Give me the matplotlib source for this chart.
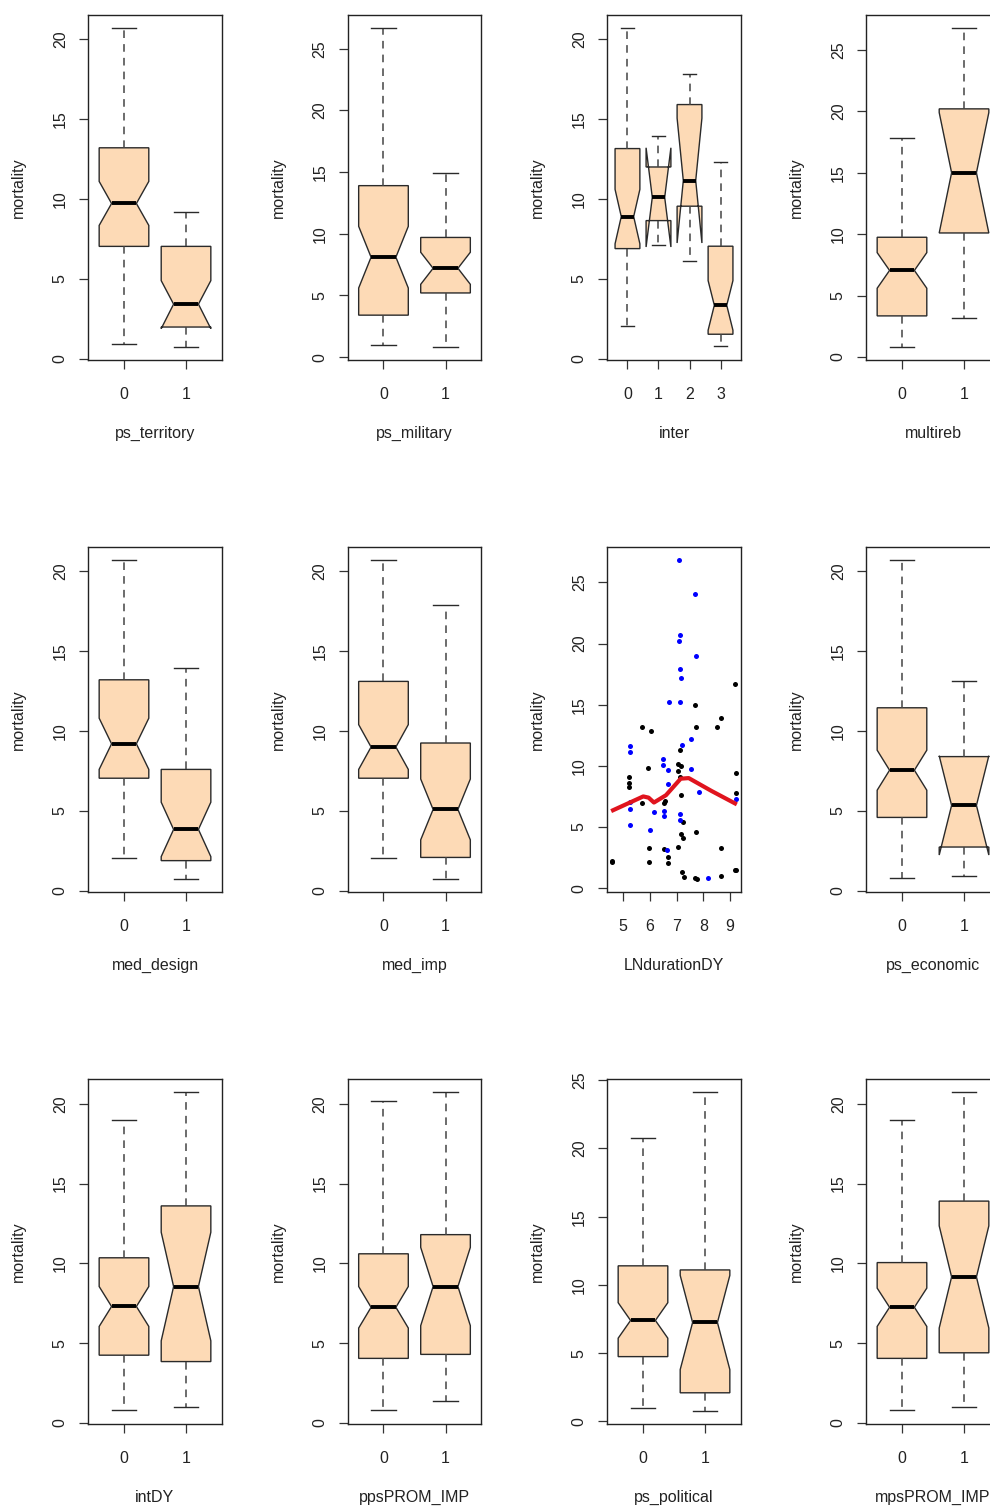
import numpy as np
import matplotlib
matplotlib.use("Agg")
import matplotlib.pyplot as plt
from matplotlib.ticker import MultipleLocator

plt.rcParams['font.family'] = ['Liberation Sans', 'DejaVu Sans']

# box stats per group: whislo, q1, cilo, med, cihi, q3, whishi
ps_territory = [[0.93, 7.04, 8.35, 9.72, 11.1, 13.2, 20.7],
                [0.75, 2.0, 1.9, 3.43, 4.9, 7.04, 9.16]]
ps_military = [[1.0, 3.4, 5.6, 8.1, 10.6, 13.9, 26.7],
               [0.8, 5.2, 5.9, 7.2, 8.5, 9.7, 14.9]]
inter = [[2.05, 6.9, 7.2, 8.9, 10.6, 13.15, 20.7],
         [7.1, 8.65, 7.0, 10.1, 13.2, 12.0, 13.95],
         [6.15, 9.55, 7.25, 11.15, 15.05, 15.9, 17.8],
         [0.8, 1.55, 1.8, 3.36, 4.9, 7.05, 12.3]]
multireb = [[0.8, 3.35, 5.6, 7.05, 8.5, 9.75, 17.8],
            [3.2, 10.1, 10.1, 15.0, 19.9, 20.2, 26.8]]
med_design = [[2.05, 7.05, 7.6, 9.2, 10.8, 13.2, 20.7],
              [0.75, 1.9, 2.15, 3.85, 5.55, 7.6, 13.95]]
med_imp = [[2.05, 7.05, 7.6, 9.0, 10.4, 13.1, 20.7],
           [0.75, 2.1, 3.2, 5.1, 7.0, 9.25, 17.9]]
ps_economic = [[0.8, 4.6, 6.3, 7.55, 8.8, 11.45, 20.7],
               [0.95, 2.75, 2.25, 5.35, 8.45, 8.4, 13.1]]
intDY = [[0.8, 4.25, 6.05, 7.3, 8.55, 10.35, 19.0],
         [1.0, 3.85, 5.15, 8.55, 11.95, 13.6, 20.75]]
ppsPROM_IMP = [[0.8, 4.05, 5.95, 7.25, 8.55, 10.6, 20.2],
               [1.35, 4.3, 6.1, 8.55, 11.0, 11.8, 20.75]]
ps_political = [[1.0, 4.75, 6.1, 7.4, 8.7, 11.4, 20.8],
                [0.75, 2.1, 3.8, 7.25, 10.7, 11.1, 24.15]]
mpsPROM_IMP = [[0.8, 4.05, 6.05, 7.25, 8.45, 10.05, 19.0],
               [1.0, 4.4, 5.95, 9.15, 12.35, 13.9, 20.75]]

# LNdurationDY scatter
black_x = [4.58, 4.6, 5.22, 5.22, 5.22, 5.7, 5.7, 6.04, 5.91, 5.98, 5.98, 6.54, 6.58,
           6.52, 6.68, 6.69, 7.06, 7.17, 7.06, 7.11, 7.11, 7.16, 7.22, 7.16, 7.23, 7.06,
           7.19, 7.26, 7.7, 7.72, 7.73, 7.7, 7.75, 8.51, 8.65, 8.64, 8.64, 9.19, 9.22,
           9.21, 9.19, 9.21]
black_y = [2.17, 2.2, 8.3, 8.6, 9.1, 7.0, 13.2, 12.85, 9.84, 3.3, 2.17, 7.0, 7.1,
           3.18, 2.58, 2.04, 10.16, 10.0, 9.6, 9.1, 11.3, 7.6, 5.43, 4.43, 4.13, 3.4,
           1.36, 0.9, 14.95, 13.15, 4.57, 0.84, 0.73, 13.2, 13.94, 3.3, 0.98, 16.7, 9.4,
           7.77, 1.47, 1.5]
blue_x = [7.07, 7.7, 7.12, 7.09, 7.73, 7.14, 7.17, 6.7, 7.12, 7.52, 7.19, 5.25, 5.25,
          6.47, 6.49, 6.69, 7.52, 6.69, 5.25, 5.25, 6.15, 6.52, 6.54, 7.11, 7.14, 5.25,
          6.0, 6.62, 8.16, 9.21, 7.85]
blue_y = [26.85, 24.05, 20.7, 20.2, 19.0, 17.9, 17.2, 15.2, 15.2, 12.2, 11.7, 11.6, 11.1,
          10.6, 10.05, 9.67, 9.73, 8.5, 7.07, 6.44, 6.25, 6.3, 5.9, 6.1, 5.6, 5.16,
          4.76, 3.1, 0.87, 7.3, 7.9]
smooth_x = [4.55, 5.2, 5.75, 5.95, 6.15, 6.6, 7.15, 7.45, 8.3, 9.25]
smooth_y = [6.3, 6.95, 7.5, 7.4, 7.0, 7.6, 8.95, 9.0, 7.95, 6.85]

FILL = '#FDDAB6'
TXT = '#222222'
FS = 11.5

W, H = 990, 1507
col_x = [88, 347.5, 607, 866]
row_y = [15, 547, 1079]
pw, ph = 134, 345

fig = plt.figure(figsize=(W / 100, H / 100), dpi=100)


def add_panel(r, c):
    return fig.add_axes([col_x[c] / W, 1 - (row_y[r] + ph) / H, pw / W, ph / H])


def r_range(lo, hi):
    pad = 0.04 * (hi - lo)
    return min(lo - pad, -0.06), hi + pad


def style(ax, xlabel):
    for s in ax.spines.values():
        s.set_linewidth(1.0)
        s.set_color('#222222')
    ax.tick_params(direction='out', length=6.5, width=0.9, color='#333333',
                   labelsize=FS, labelcolor=TXT)
    ax.tick_params(axis='y', labelrotation=90, pad=8)
    ax.tick_params(axis='x', pad=13)
    for lab in ax.get_yticklabels():
        lab.set_va('center')
    ax.yaxis.set_major_locator(MultipleLocator(5))
    ax.set_ylabel('mortality', fontsize=FS, color=TXT)
    ax.yaxis.set_label_coords(-0.463, 0.5)
    ax.set_xlabel(xlabel, fontsize=FS, color=TXT)
    ax.xaxis.set_label_coords(0.5, -0.19)


def box_panel(ax, groups, name):
    stats = []
    for g in groups:
        wl, q1, cl, md, ch, q3, wh = g
        stats.append(dict(whislo=wl, q1=q1, cilo=cl, med=md, cihi=ch, q3=q3,
                          whishi=wh, fliers=[]))
    n = len(groups)
    pos = np.arange(1, n + 1)
    ax.bxp(stats, positions=pos, widths=0.8, capwidths=0.4, shownotches=True,
           patch_artist=True, showfliers=False, manage_ticks=False,
           boxprops=dict(facecolor=FILL, edgecolor='#2a2a2a', linewidth=1.0),
           whiskerprops=dict(color='#444444', linestyle=(0, (5, 4)), linewidth=1.1),
           capprops=dict(color='#2a2a2a', linewidth=1.0),
           medianprops=dict(color='black', linewidth=2.8, solid_capstyle='butt'))
    ax.set_xticks(pos)
    ax.set_xticklabels([str(i) for i in range(n)])
    ax.set_xlim(0.5 - 0.04 * n, n + 0.5 + 0.04 * n)
    lo = min(min(g) for g in groups)
    hi = max(max(g) for g in groups)
    ax.set_ylim(*r_range(lo, hi))
    style(ax, name)


panels = [
    (0, 0, 'ps_territory', ps_territory),
    (0, 1, 'ps_military', ps_military),
    (0, 2, 'inter', inter),
    (0, 3, 'multireb', multireb),
    (1, 0, 'med_design', med_design),
    (1, 1, 'med_imp', med_imp),
    (1, 3, 'ps_economic', ps_economic),
    (2, 0, 'intDY', intDY),
    (2, 1, 'ppsPROM_IMP', ppsPROM_IMP),
    (2, 2, 'ps_political', ps_political),
    (2, 3, 'mpsPROM_IMP', mpsPROM_IMP),
]

for r, c, name, groups in panels:
    ax = add_panel(r, c)
    box_panel(ax, groups, name)

# scatter with smoother
ax = add_panel(1, 2)
ax.plot(black_x, black_y, 'o', color='black', ms=3.6, mew=0)
ax.plot(blue_x, blue_y, 'o', color='blue', ms=3.6, mew=0)
ax.plot(smooth_x, smooth_y, color='#e0141e', lw=3, solid_capstyle='butt')
all_x = black_x + blue_x
all_y = black_y + blue_y
ax.set_xlim(*r_range(min(all_x), max(all_x)))
ax.set_xlim(min(all_x) - 0.04 * (max(all_x) - min(all_x)),
            max(all_x) + 0.04 * (max(all_x) - min(all_x)))
ax.set_ylim(*r_range(min(all_y), max(all_y)))
ax.set_xticks([5, 6, 7, 8, 9])
style(ax, 'LNdurationDY')

fig.savefig('out.png', dpi=100, facecolor='white')
